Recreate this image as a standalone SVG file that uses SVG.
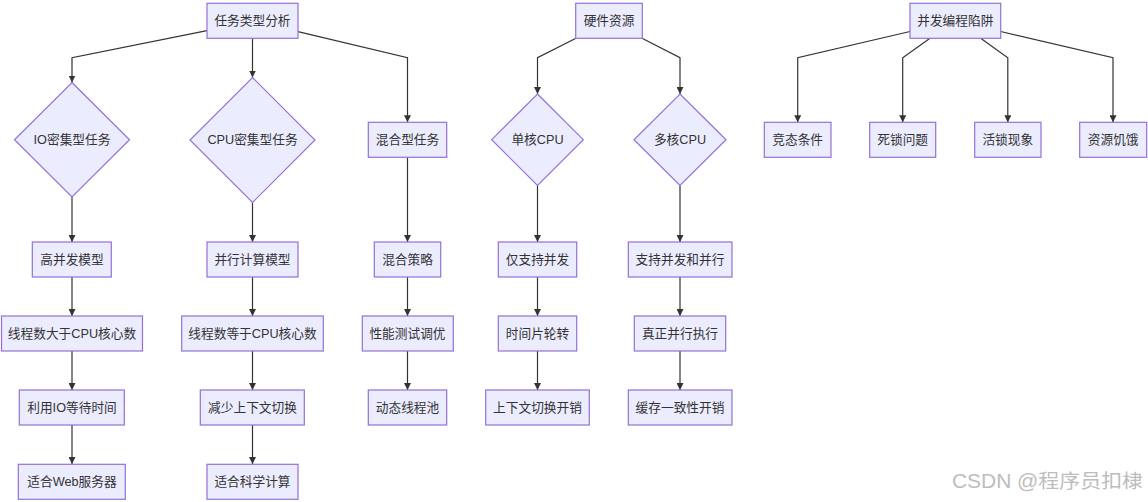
<svg xmlns="http://www.w3.org/2000/svg" width="1148" height="502" viewBox="0 0 1148 502">
<style>
.n rect,.n polygon{fill:#ECECFF;stroke:#9370DB;stroke-width:1.2}
.n text{font-family:"Trebuchet MS","Liberation Sans","Noto Sans CJK SC",sans-serif;font-size:12.7px;fill:#333;text-anchor:middle;dominant-baseline:central}
.e path{fill:none;stroke:#333;stroke-width:1.2}
.wm{font-family:"Liberation Sans","Noto Sans CJK SC",sans-serif;font-size:19.5px;fill:#bdbdbd}
</style>
<defs>
<marker id="ah" viewBox="0 0 10 10" refX="10" refY="5" markerWidth="7" markerHeight="7" markerUnits="userSpaceOnUse" orient="auto">
<path d="M0,0 L10,5 L0,10 z" fill="#333"/>
</marker>
</defs>
<rect width="1148" height="502" fill="#fff"/>
<g class="e">
<path d="M207,30.7 L72,57.7 L72,82.5" marker-end="url(#ah)"/>
<path d="M252.5,38.3 L252.5,77.5" marker-end="url(#ah)"/>
<path d="M298,31.7 L407.5,57.7 L407.5,122.3" marker-end="url(#ah)"/>
<path d="M576,38.3 L537.5,57.7 L537.5,94" marker-end="url(#ah)"/>
<path d="M642,38.3 L680,57.7 L680,94" marker-end="url(#ah)"/>
<path d="M910,31.5 L797.7,57.7 L797.7,122.3" marker-end="url(#ah)"/>
<path d="M930,38.3 L902.7,57.7 L902.7,122.3" marker-end="url(#ah)"/>
<path d="M980.7,38.3 L1007.8,57.7 L1007.8,122.3" marker-end="url(#ah)"/>
<path d="M1000.7,31.5 L1113,57.7 L1113,122.3" marker-end="url(#ah)"/>
<path d="M72,197 L72,242" marker-end="url(#ah)"/>
<path d="M72,277 L72,316" marker-end="url(#ah)"/>
<path d="M72,351 L72,390" marker-end="url(#ah)"/>
<path d="M72,425 L72,464" marker-end="url(#ah)"/>
<path d="M252.5,202.5 L252.5,242" marker-end="url(#ah)"/>
<path d="M252.5,277 L252.5,316" marker-end="url(#ah)"/>
<path d="M252.5,351 L252.5,390" marker-end="url(#ah)"/>
<path d="M252.5,425 L252.5,464" marker-end="url(#ah)"/>
<path d="M407.5,157.3 L407.5,242" marker-end="url(#ah)"/>
<path d="M407.5,277 L407.5,316" marker-end="url(#ah)"/>
<path d="M407.5,351 L407.5,390" marker-end="url(#ah)"/>
<path d="M537.5,185.5 L537.5,242" marker-end="url(#ah)"/>
<path d="M537.5,277 L537.5,316" marker-end="url(#ah)"/>
<path d="M537.5,351 L537.5,390" marker-end="url(#ah)"/>
<path d="M680,185.5 L680,242" marker-end="url(#ah)"/>
<path d="M680,277 L680,316" marker-end="url(#ah)"/>
<path d="M680,351 L680,390" marker-end="url(#ah)"/>
</g>
<g class="n" id="task"><rect x="207" y="3.3" width="91" height="35"/><text x="252.5" y="20.8">任务类型分析</text></g>
<g class="n" id="hw"><rect x="575.7" y="3.3" width="66.6" height="35"/><text x="609" y="20.8">硬件资源</text></g>
<g class="n" id="pit"><rect x="910" y="3.3" width="90.7" height="35"/><text x="955.3" y="20.8">并发编程陷阱</text></g>

<g class="n" id="io"><polygon points="72,82.5 129.5,139.7 72,197 14.5,139.7"/><text x="72" y="139.7">IO密集型任务</text></g>
<g class="n" id="cpu"><polygon points="252.5,77.5 315,140 252.5,202.5 190,140"/><text x="252.5" y="140">CPU密集型任务</text></g>
<g class="n" id="mix"><rect x="368.3" y="122.3" width="78.4" height="35"/><text x="407.5" y="139.8">混合型任务</text></g>
<g class="n" id="single"><polygon points="537.5,94 583.3,139.7 537.5,185.5 491.7,139.7"/><text x="537.5" y="139.7">单核CPU</text></g>
<g class="n" id="multi"><polygon points="680,94 726,139.7 680,185.5 634,139.7"/><text x="680" y="139.7">多核CPU</text></g>

<g class="n" id="race"><rect x="764.3" y="122.3" width="66.7" height="35"/><text x="797.7" y="139.8">竞态条件</text></g>
<g class="n" id="dead"><rect x="869.7" y="122.3" width="66" height="35"/><text x="902.7" y="139.8">死锁问题</text></g>
<g class="n" id="live"><rect x="974.7" y="122.3" width="66.3" height="35"/><text x="1007.8" y="139.8">活锁现象</text></g>
<g class="n" id="starve"><rect x="1079.7" y="122.3" width="67" height="35"/><text x="1113.2" y="139.8">资源饥饿</text></g>

<g class="n" id="io1"><rect x="32.3" y="242" width="79" height="35"/><text x="72" y="259.5">高并发模型</text></g>
<g class="n" id="io2"><rect x="1.5" y="316" width="141" height="35"/><text x="72" y="333.5">线程数大于CPU核心数</text></g>
<g class="n" id="io3"><rect x="19.3" y="390" width="105" height="35"/><text x="72" y="407.5">利用IO等待时间</text></g>
<g class="n" id="io4"><rect x="18.3" y="464.3" width="107" height="35"/><text x="72" y="481.8">适合Web服务器</text></g>

<g class="n" id="cpu1"><rect x="207" y="242" width="91" height="35"/><text x="252.5" y="259.5">并行计算模型</text></g>
<g class="n" id="cpu2"><rect x="181.7" y="316" width="141.6" height="35"/><text x="252.5" y="333.5">线程数等于CPU核心数</text></g>
<g class="n" id="cpu3"><rect x="200.3" y="390" width="104" height="35"/><text x="252.5" y="407.5">减少上下文切换</text></g>
<g class="n" id="cpu4"><rect x="207" y="464.3" width="91" height="35"/><text x="252.5" y="481.8">适合科学计算</text></g>

<g class="n" id="mix1"><rect x="374.3" y="242" width="66.4" height="35"/><text x="407.5" y="259.5">混合策略</text></g>
<g class="n" id="mix2"><rect x="362.3" y="316" width="91" height="35"/><text x="407.5" y="333.5">性能测试调优</text></g>
<g class="n" id="mix3"><rect x="368.3" y="390" width="78.4" height="35"/><text x="407.5" y="407.5">动态线程池</text></g>

<g class="n" id="s1"><rect x="498.3" y="242" width="78.4" height="35"/><text x="537.5" y="259.5">仅支持并发</text></g>
<g class="n" id="s2"><rect x="498.3" y="316" width="78.4" height="35"/><text x="537.5" y="333.5">时间片轮转</text></g>
<g class="n" id="s3"><rect x="485.7" y="390" width="103.6" height="35"/><text x="537.5" y="407.5">上下文切换开销</text></g>

<g class="n" id="m1"><rect x="628.3" y="242" width="103.7" height="35"/><text x="680" y="259.5">支持并发和并行</text></g>
<g class="n" id="m2"><rect x="634.3" y="316" width="91.4" height="35"/><text x="680" y="333.5">真正并行执行</text></g>
<g class="n" id="m3"><rect x="628.3" y="390" width="103.7" height="35"/><text x="680" y="407.5">缓存一致性开销</text></g>

<text class="wm" x="952" y="488" textLength="191" lengthAdjust="spacingAndGlyphs">CSDN @程序员扣棣</text>
</svg>
